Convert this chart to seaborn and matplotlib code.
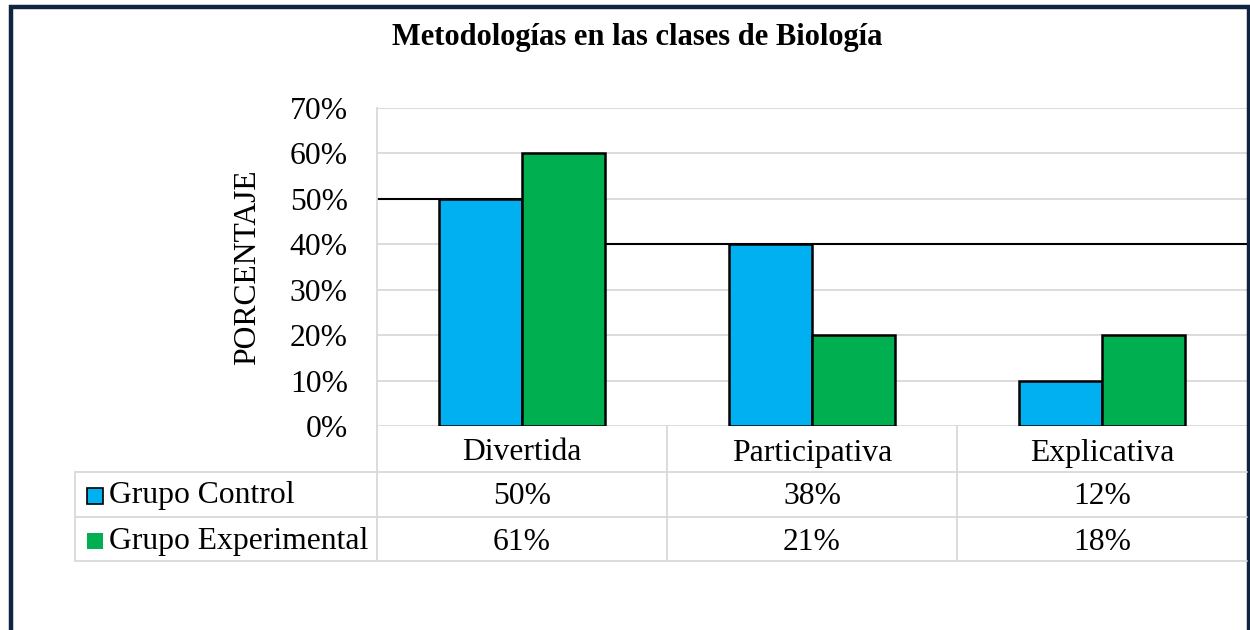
import pandas as pd
import matplotlib.pyplot as plt
import seaborn as sns
from matplotlib.lines import Line2D
from matplotlib.patches import Rectangle
from matplotlib.transforms import blended_transform_factory

categorias = ["Divertida", "Participativa", "Explicativa"]
grupos = ["Grupo Control", "Grupo Experimental"]
# heights of the drawn bars
barras_control = [50, 40, 10]
barras_experimental = [60, 20, 20]
# values printed in the data table
tabla_control = [50, 38, 12]
tabla_experimental = [61, 21, 18]
# black step line behind the bars
linea_vals = [50, 40, 40]
colores = ["#00B0F0", "#00B050"]

W, H = 1250, 630
sns.set_style("white")
plt.rcParams["font.family"] = ["Liberation Serif", "DejaVu Serif"]
plt.rcParams["text.color"] = "black"
plt.rcParams["ytick.color"] = "black"
plt.rcParams["xtick.color"] = "black"
plt.rcParams["axes.labelcolor"] = "black"
FS = 22.8

def fx(x):
    return x / W

def fy(y):
    return 1 - y / H

df = pd.DataFrame({
    "categoria": categorias * 2,
    "grupo": [grupos[0]] * 3 + [grupos[1]] * 3,
    "valor": barras_control + barras_experimental,
})

fig = plt.figure(figsize=(12.5, 6.3), dpi=100)
ax = fig.add_axes([fx(377), fy(426), fx(1247 - 377), (426 - 108) / H])

sns.barplot(data=df, x="categoria", y="valor", hue="grupo", palette=colores,
            saturation=1, width=0.572, edgecolor="black", linewidth=1.8,
            legend=False, ax=ax)
for p in ax.patches:
    p.set_zorder(3)

ax.plot([-0.5, 0, 2.5], linea_vals, drawstyle="steps-post", color="black", lw=1.5, zorder=2)

ax.set_xlim(-0.5, 2.5)
ax.set_ylim(0, 70)
ax.set_yticks(range(0, 71, 10))
ax.set_yticklabels([f"{t}%" for t in range(0, 71, 10)], fontsize=FS)
ax.yaxis.grid(True, color="#d9d9d9", lw=1.3, zorder=0)
ax.set_axisbelow(True)
ax.tick_params(axis="y", length=0, pad=21)
ax.tick_params(axis="x", length=0, pad=9)
ax.set_xticks(range(len(categorias)))
ax.set_xticklabels(categorias, fontsize=FS)
ax.set_xlabel("")
ax.set_ylabel("PORCENTAJE", fontsize=FS, labelpad=20)
for s in ["top", "right", "bottom"]:
    ax.spines[s].set_visible(False)
ax.spines["left"].set_color("#d9d9d9")
ax.spines["left"].set_linewidth(1.3)

# data table under the chart
gris = "#d9d9d9"
for y in [472, 517, 561]:
    fig.add_artist(Line2D([fx(75), fx(1247)], [fy(y), fy(y)], color=gris, lw=1.3))
fig.add_artist(Line2D([fx(75), fx(75)], [fy(472), fy(561)], color=gris, lw=1.3))
blend = blended_transform_factory(ax.transData, fig.transFigure)
for xb in [-0.5, 0.5, 1.5]:
    ax.add_artist(Line2D([xb, xb], [fy(426), fy(561)], color=gris, lw=1.3,
                         transform=blend, clip_on=False))

for i in range(len(categorias)):
    ax.text(i, fy(496), f"{tabla_control[i]}%", transform=blend, ha="center",
            va="center", fontsize=FS, clip_on=False)
    ax.text(i, fy(542), f"{tabla_experimental[i]}%", transform=blend, ha="center",
            va="center", fontsize=FS, clip_on=False)

fig.add_artist(Rectangle((fx(87), fy(504)), fx(16), 16 / H, facecolor=colores[0],
                         edgecolor="black", lw=1.2))
fig.add_artist(Rectangle((fx(87), fy(549)), fx(16), 16 / H, facecolor=colores[1],
                         edgecolor="none"))
fig.text(fx(109), fy(495), grupos[0], ha="left", va="center", fontsize=FS)
fig.text(fx(109), fy(541), grupos[1], ha="left", va="center", fontsize=FS)

fig.text(fx(637), fy(37), "Metodologías en las clases de Biología", ha="center",
         va="center", fontsize=22, fontweight="bold")

# outer frame
fig.add_artist(Rectangle((fx(11), fy(H + 20)), fx(1238), (H + 20 - 7) / H, facecolor="none",
                         edgecolor="#10243f", lw=3.2))

fig.savefig("out.png", dpi=100)
